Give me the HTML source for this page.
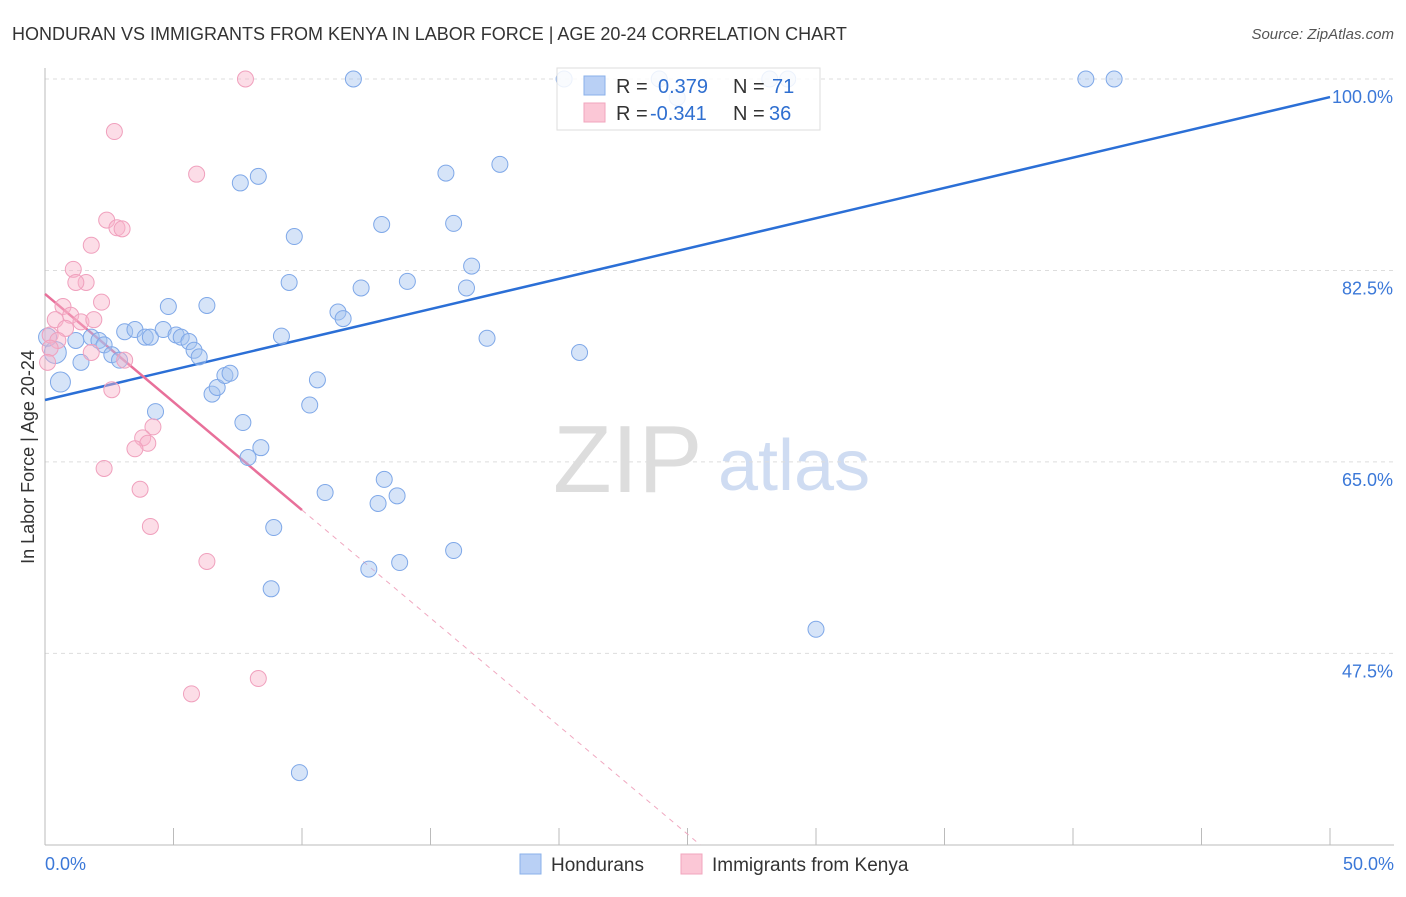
<!DOCTYPE html>
<html><head><meta charset="utf-8">
<style>
body{margin:0;background:#fff;font-family:"Liberation Sans",sans-serif;}
svg text{font-family:"Liberation Sans",sans-serif;}
</style></head>
<body>
<svg id="chart" width="1406" height="892">
<text x="12" y="40" font-size="18" fill="#333">HONDURAN VS IMMIGRANTS FROM KENYA IN LABOR FORCE | AGE 20-24 CORRELATION CHART</text>
<text x="1394" y="39" font-size="15" fill="#555" text-anchor="end" font-style="italic">Source: ZipAtlas.com</text>
<text x="34" y="457" font-size="18" fill="#333" text-anchor="middle" transform="rotate(-90 34 457)">In Labor Force | Age 20-24</text>
<g>
<text x="553" y="492" font-size="96" fill="#ddd" font-family="Liberation Serif,serif">ZIP</text>
<text x="718" y="490" font-size="72" fill="#cfdcf2">atlas</text>
</g>
<g id="grid"></g><g id="axes"></g><g id="lines"></g><g id="pts"></g>
<g>
<rect x="557" y="68" width="263" height="62" fill="rgba(255,255,255,0.85)" stroke="#ddd"/>
<rect x="584" y="76" width="21" height="19" fill="#b9d0f5" stroke="#8ab0ea"/>
<rect x="584" y="103" width="21" height="19" fill="#fbc7d6" stroke="#f2a5bd"/>
<text x="616" y="93" font-size="20" fill="#333">R = </text><text x="658" y="93" font-size="20" fill="#2f6fd0">0.379</text>
<text x="733" y="93" font-size="20" fill="#333">N = </text><text x="772" y="93" font-size="20" fill="#2f6fd0">71</text>
<text x="616" y="120" font-size="20" fill="#333">R = </text><text x="650" y="120" font-size="20" fill="#2f6fd0">-0.341</text>
<text x="733" y="120" font-size="20" fill="#333">N = </text><text x="769" y="120" font-size="20" fill="#2f6fd0">36</text>
</g>
<g>
<rect x="520" y="854" width="21" height="20" fill="#b9d0f5" stroke="#8ab0ea"/>
<text x="551" y="871" font-size="19" fill="#333">Hondurans</text>
<rect x="681" y="854" width="21" height="20" fill="#fbc7d6" stroke="#f2a5bd"/>
<text x="712" y="871" font-size="19" fill="#333">Immigrants from Kenya</text>
</g>
</svg>
<script>
const yTicks=[100,82.5,65,47.5];
const yTickLabels=["100.0%","82.5%","65.0%","47.5%"];
const xTickLabels=["0.0%","50.0%"];
const blueX=[0.4,0.6,0.1,1.2,1.4,1.8,2.1,2.3,2.6,2.9,3.1,3.5,3.9,4.1,4.3,4.6,4.8,5.1,5.3,5.6,5.8,6.0,6.3,6.5,6.7,7.0,7.2,7.6,7.7,7.9,8.3,8.4,8.8,8.9,9.2,9.5,9.7,9.9,10.3,10.6,10.9,11.4,11.6,12.0,12.3,12.6,12.96,13.1,13.2,13.7,13.8,14.1,15.6,15.9,15.9,16.4,16.6,17.2,17.7,20.2,20.8,23.9,24.6,28.2,28.9,30.0,40.5,41.6];
const blueY=[75.0,72.3,76.4,76.1,74.1,76.4,76.1,75.7,74.8,74.3,76.9,77.1,76.4,76.4,69.6,77.1,79.2,76.6,76.4,76.0,75.2,74.6,79.3,71.2,71.8,72.9,73.1,90.5,68.6,65.4,91.1,66.3,53.4,59.0,76.5,81.4,85.6,36.6,70.2,72.5,62.2,78.7,78.1,100,80.9,55.2,61.2,86.7,63.4,61.9,55.8,81.5,91.4,86.8,56.9,80.9,82.9,76.3,92.2,100,75.0,100,98.3,100,100,49.7,100,100];
const blueR=[11,10,9,8,8,8,8,8,8,8,8,8,8,8,8,8,8,8,8,8,8,8,8,8,8,8,8,8,8,8,8,8,8,8,8,8,8,8,8,8,8,8,8,8,8,8,8,8,8,8,8,8,8,8,8,8,8,8,8,8,8,8,8,8,8,8,8,8];
const pinkX=[7.8,2.7,5.9,2.4,2.8,3.0,1.8,1.1,1.6,1.2,2.2,0.7,1.0,0.4,1.4,1.9,0.8,0.2,0.5,0.2,0.1,1.8,3.1,2.6,4.2,3.8,4.0,3.5,2.3,3.7,4.1,6.3,5.7,8.3];
const pinkY=[100,95.2,91.3,87.1,86.4,86.3,84.8,82.6,81.4,81.4,79.6,79.2,78.4,78.0,77.8,78.0,77.2,76.6,76.1,75.4,74.1,75.0,74.3,71.6,68.2,67.2,66.7,66.2,64.4,62.5,59.1,55.9,43.8,45.2];
const blueTrend=[70.66,98.35];
const pinkTrend=[80.35,-1.975];
const NS="http://www.w3.org/2000/svg";
const X0=45,X1=1330,Y100=79,PPY=10.94;
const sx=v=>X0+(X1-X0)*v/50;
const sy=v=>Y100+(100-v)*PPY;
function mk(t,a,p){const e=document.createElementNS(NS,t);for(const k in a)e.setAttribute(k,a[k]);document.getElementById(p).appendChild(e);return e;}
yTicks.forEach((t,i)=>{
 const l=mk('line',{x1:X0,x2:1394,y1:sy(t),y2:sy(t),stroke:'#ddd','stroke-dasharray':'4,4'},'grid');
 
 
 const tx=mk('text',{x:1393,y:sy(t)+24,'font-size':18,fill:'#3b78d8','text-anchor':'end'},'axes');
 tx.textContent=yTickLabels[i];
 
 
});
mk('line',{x1:X0,x2:X0,y1:68,y2:845,stroke:'#bbb'},'axes');
mk('line',{x1:X0,x2:1394,y1:845,y2:845,stroke:'#bbb'},'axes');
for(let i=0;i<=10;i++){mk('line',{x1:sx(i*5),x2:sx(i*5),y1:828,y2:845,stroke:'#bbb'},'axes');}
const xl=mk('text',{x:45,y:870,'font-size':18,fill:'#3b78d8'},'axes');xl.textContent=xTickLabels[0];


const xr=mk('text',{x:1394,y:870,'font-size':18,fill:'#3b78d8','text-anchor':'end'},'axes');xr.textContent=xTickLabels[1];


const bl=mk('line',{x1:sx(0),y1:sy(blueTrend[0]),x2:sx(50),y2:sy(blueTrend[1]),stroke:'#2b6fd6','stroke-width':2.5},'lines');


const pf=x=>pinkTrend[0]+pinkTrend[1]*x;
const pl=mk('line',{x1:sx(0),y1:sy(pf(0)),x2:sx(10),y2:sy(pf(10)),stroke:'#e8709a','stroke-width':2.5},'lines');


const xe=(30-pinkTrend[0])/pinkTrend[1];
const pd=mk('line',{x1:sx(10),y1:sy(pf(10)),x2:sx(xe),y2:sy(30),stroke:'#f0a8c0','stroke-width':1,'stroke-dasharray':'5,5'},'lines');


blueX.forEach((x,i)=>{
 const c=mk('circle',{cx:sx(x),cy:sy(blueY[i]),r:blueR[i],fill:'rgba(165,195,240,0.45)',stroke:'#7fa8e8','stroke-width':1},'pts');
 
 
});
pinkX.forEach((x,i)=>{
 const c=mk('circle',{cx:sx(x),cy:sy(pinkY[i]),r:8,fill:'rgba(248,180,202,0.45)',stroke:'#f0a0bd','stroke-width':1},'pts');
 
 
});
</script>
</body></html>
